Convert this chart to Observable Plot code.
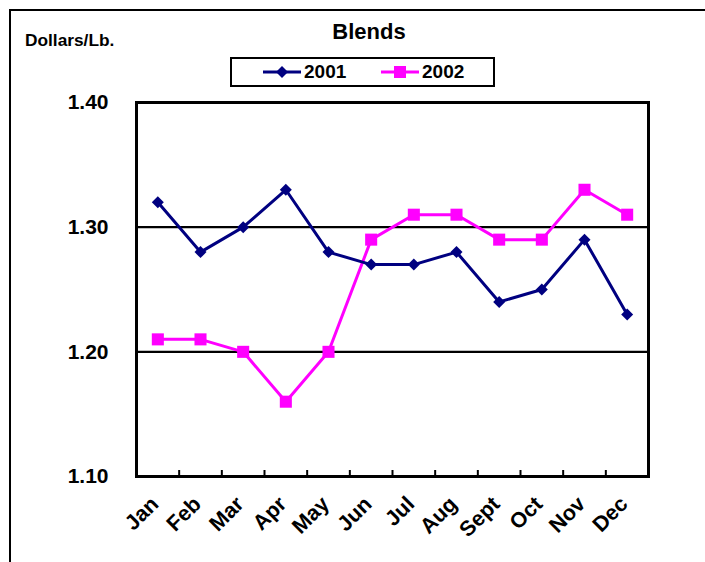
<!DOCTYPE html>
<html>
<head>
<meta charset="utf-8">
<script src="https://cdn.jsdelivr.net/npm/d3@7"></script>
<script src="https://cdn.jsdelivr.net/npm/@observablehq/plot@0.6"></script>
<style>
  html, body { margin: 0; padding: 0; background: #fff; overflow: hidden; }
  body { width: 705px; height: 562px; position: relative; font-family: "Liberation Sans", Arial, sans-serif; font-weight: bold; }
  #outer { position: absolute; left: 9px; top: 9px; width: 800px; height: 700px; border: 2.5px solid #000; box-sizing: border-box; }
  #chart { position: absolute; left: 0; top: 0; }
  #title { position: absolute; left: 0; width: 738px; top: 20px; text-align: center; font-size: 22px; line-height: 24px; }
  #ylabel { position: absolute; left: 25px; top: 30px; font-size: 17.3px; line-height: 20px; }
  #legend { position: absolute; left: 230px; top: 57px; width: 265px; height: 30px; border: 2.5px solid #000; box-sizing: border-box; background: #fff; font-size: 19px; }
  .item { display: flex; align-items: center; position: absolute; top: 2px; line-height: 22px; }
  .item svg { margin-right: 2px; }
</style>
</head>
<body>
<div id="outer"></div>
<div id="chart"></div>
<div id="title">Blends</div>
<div id="ylabel">Dollars/Lb.</div>
<div id="legend"></div>
<script>
const months = ["Jan","Feb","Mar","Apr","May","Jun","Jul","Aug","Sept","Oct","Nov","Dec"];
const seriesNames = ["2001", "2002"];
const values2001 = [1.32, 1.28, 1.30, 1.33, 1.28, 1.27, 1.27, 1.28, 1.24, 1.25, 1.29, 1.23];
const values2002 = [1.21, 1.21, 1.20, 1.16, 1.20, 1.29, 1.31, 1.31, 1.29, 1.29, 1.33, 1.31];
const yTicks = [1.10, 1.20, 1.30, 1.40];
const gridLines = [1.20, 1.30];
const colors = {"2001": "#000080", "2002": "#FF00FF"};
const symbols = {"2001": "diamond2", "2002": "square"};
const radii = {"2001": 5.4, "2002": 6.8};

const data = [];
months.forEach((m, i) => {
  data.push({series: "2001", i, month: m, value: values2001[i]});
  data.push({series: "2002", i, month: m, value: values2002[i]});
});
const between = d3.range(months.length - 1).map(i => i + 0.5);

const W = 705, H = 562, mt = 102, mb = 86, ml = 136, mr = 57;
const innerH = H - mt - mb;

const chart = Plot.plot({
  width: W, height: H,
  marginTop: mt, marginBottom: mb, marginLeft: ml, marginRight: mr,
  style: {fontFamily: "'Liberation Sans', Arial, sans-serif", fontWeight: "bold", background: "transparent"},
  x: {type: "linear", domain: [-0.5, months.length - 0.5]},
  y: {domain: [1.10, 1.40]},
  marks: [
    Plot.ruleY(gridLines, {stroke: "#000", strokeWidth: 2.2}),
    Plot.tickX(between, {x: d => d, stroke: "#000", strokeWidth: 2, insetTop: innerH - 6}),
    Plot.line(data.filter(d => d.series === "2002"), {x: "i", y: "value", stroke: colors["2002"], strokeWidth: 3}),
    Plot.line(data.filter(d => d.series === "2001"), {x: "i", y: "value", stroke: colors["2001"], strokeWidth: 3}),
    Plot.dot(data.filter(d => d.series === "2002"), {x: "i", y: "value", symbol: () => symbols["2002"], fill: colors["2002"], r: radii["2002"], stroke: "none"}),
    Plot.dot(data.filter(d => d.series === "2001"), {x: "i", y: "value", symbol: () => symbols["2001"], fill: colors["2001"], r: radii["2001"], stroke: "none"}),
    Plot.frame({stroke: "#000", strokeWidth: 3}),
    Plot.axisY({ticks: yTicks, tickFormat: d3.format(".2f"), tickSize: 0, tickPadding: 28, fontSize: 21, fontWeight: "bold", label: null}),
    Plot.axisX({ticks: d3.range(months.length), tickFormat: i => months[i], tickSize: 0, tickPadding: 15, tickRotate: -45, fontSize: 21.5, fontWeight: "bold", label: null, dx: -3, dy: 9})
  ]
});
document.getElementById("chart").appendChild(chart);

// legend
const legend = document.getElementById("legend");
const legendX = [30, 148];
seriesNames.forEach((name, k) => {
  const item = document.createElement("div");
  item.className = "item";
  item.style.left = legendX[k] + "px";
  const sw = d3.create("svg").attr("width", 40).attr("height", 20);
  sw.append("line").attr("x1", 1).attr("x2", 39).attr("y1", 10).attr("y2", 10).attr("stroke", colors[name]).attr("stroke-width", 3);
  const sym = name === "2001" ? d3.symbolDiamond2 : d3.symbolSquare;
  const r = radii[name];
  sw.append("path").attr("d", d3.symbol(sym, Math.PI * r * r)()).attr("transform", "translate(20,10)").attr("fill", colors[name]);
  item.appendChild(sw.node());
  const t = document.createElement("span");
  t.textContent = name;
  item.appendChild(t);
  legend.appendChild(item);
});
</script>
</body>
</html>
